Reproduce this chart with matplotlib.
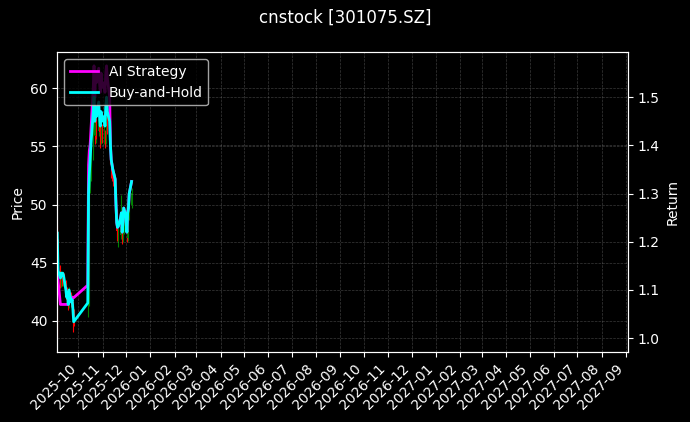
import matplotlib
matplotlib.use('Agg')
import matplotlib.pyplot as plt
import matplotlib.dates as mdates
import numpy as np
import pandas as pd

title = 'cnstock [301075.SZ]'

# 交易日 (国庆前后有一段缺失)
dates = ['2025-09-04', '2025-09-05', '2025-09-08', '2025-09-09', '2025-09-10', '2025-09-11',
         '2025-09-12', '2025-09-15', '2025-09-16', '2025-09-17', '2025-09-18', '2025-09-19',
         '2025-09-22', '2025-09-23', '2025-09-24', '2025-09-25',
         '2025-10-13', '2025-10-14', '2025-10-15', '2025-10-16', '2025-10-17',
         '2025-10-20', '2025-10-21', '2025-10-22', '2025-10-23', '2025-10-24',
         '2025-10-27', '2025-10-28', '2025-10-29', '2025-10-30', '2025-10-31',
         '2025-11-03', '2025-11-04', '2025-11-05', '2025-11-06', '2025-11-07',
         '2025-11-10', '2025-11-11', '2025-11-12', '2025-11-13', '2025-11-14',
         '2025-11-17', '2025-11-18', '2025-11-19', '2025-11-20', '2025-11-21',
         '2025-11-24', '2025-11-25', '2025-11-26', '2025-11-27', '2025-11-28',
         '2025-12-01', '2025-12-02', '2025-12-03', '2025-12-04', '2025-12-05',
         '2025-12-08']

open_px = [48.0, 46.5, 44.0, 43.2, 43.7, 43.4, 43.8, 43.3, 42.5, 41.9, 42.1, 41.3, 42.3, 41.5, 41.5, 40.6,
           40.5, 41.5, 50.5, 51.8, 52.5, 54.2, 56.8, 57.5, 55.9, 57.2, 56.3, 57.3, 56.1, 55.5, 56.5,
           55.7, 56.1, 55.5, 57.1, 57.6, 56.5, 55.6, 53.8, 52.8, 52.3, 51.9, 51.0, 49.2, 47.8, 47.3,
           47.4, 48.2, 48.4, 47.1, 47.8, 48.8, 48.0, 47.1, 48.4, 49.0, 50.0]
high_px = [48.2, 47.0, 44.8, 44.3, 44.2, 44.0, 44.1, 43.5, 42.9, 42.6, 42.4, 42.9, 42.5, 42.2, 41.7, 41.0,
           42.2, 50.1, 52.8, 53.5, 54.6, 57.5, 58.9, 57.9, 57.6, 57.5, 58.0, 57.6, 56.5, 57.1, 56.9,
           56.8, 56.4, 57.4, 58.6, 57.9, 56.8, 55.9, 54.2, 53.4, 52.8, 52.3, 51.4, 49.6, 48.6, 48.0,
           48.6, 50.8, 48.7, 48.2, 49.3, 49.1, 48.3, 48.8, 49.3, 50.5, 51.4]
low_px = [38.6, 43.5, 42.8, 42.9, 43.0, 43.0, 43.1, 42.0, 41.6, 41.5, 40.9, 41.1, 41.2, 40.4, 39.0, 39.5,
          40.3, 41.3, 49.8, 51.0, 52.0, 53.8, 56.0, 55.2, 55.3, 55.6, 55.9, 55.7, 54.9, 55.2, 55.3,
          55.2, 54.9, 55.2, 56.6, 56.1, 55.3, 53.5, 52.3, 52.0, 51.6, 50.8, 48.9, 47.2, 46.9, 46.3,
          47.0, 47.9, 46.6, 46.8, 47.5, 47.8, 46.8, 46.9, 48.0, 48.7, 49.7]
close_px = [46.9, 43.9, 43.3, 43.7, 43.5, 43.7, 43.5, 42.4, 41.8, 42.2, 41.2, 42.4, 41.4, 41.6, 40.8, 39.8,
            41.3, 50.1, 51.6, 52.7, 53.9, 56.6, 57.8, 55.8, 57.0, 56.2, 57.4, 56.2, 55.4, 56.6, 55.8,
            56.2, 55.4, 57.0, 57.8, 56.6, 55.8, 53.9, 52.7, 52.4, 52.0, 51.2, 49.3, 47.7, 47.4, 47.4,
            48.1, 48.5, 47.0, 47.7, 48.9, 48.1, 47.0, 48.5, 48.9, 50.1, 51.0]

ai_strategy = [1.18, 1.12, 1.07, 1.07, 1.07, 1.07, 1.07, 1.07, 1.07, 1.07, 1.07, 1.09, 1.075, 1.08, 1.085, 1.084,
               1.11, 1.36, 1.39, 1.40, 1.43, 1.52, 1.565, 1.50, 1.55, 1.53, 1.56, 1.53, 1.51, 1.55, 1.52,
               1.53, 1.51, 1.55, 1.565, 1.54, 1.50, 1.40, 1.37, 1.36, 1.35, 1.33, 1.28, 1.24, 1.23, 1.232,
               1.25, 1.26, 1.22, 1.24, 1.27, 1.25, 1.22, 1.26, 1.27, 1.30, 1.325]
buy_hold = [1.218, 1.14, 1.125, 1.135, 1.13, 1.135, 1.13, 1.10, 1.085, 1.095, 1.07, 1.10, 1.075, 1.08, 1.06, 1.034,
            1.073, 1.30, 1.34, 1.37, 1.40, 1.47, 1.50, 1.45, 1.48, 1.46, 1.49, 1.46, 1.44, 1.47, 1.45,
            1.46, 1.44, 1.48, 1.50, 1.47, 1.45, 1.40, 1.37, 1.36, 1.35, 1.33, 1.28, 1.24, 1.23, 1.232,
            1.25, 1.26, 1.22, 1.24, 1.27, 1.25, 1.22, 1.26, 1.27, 1.30, 1.325]

x_range = ('2025-09-04', '2027-09-04')


class CandleChart:
    def __init__(self):
        self.save_path = 'out.png'
        self.up_color = 'green'
        self.down_color = 'red'

    def plot_candles(self, ax, x):
        o = np.array(open_px)
        h = np.array(high_px)
        l = np.array(low_px)
        c = np.array(close_px)
        colors = np.where(c >= o, self.up_color, self.down_color)
        # 影线
        ax.vlines(x, l, h, colors=colors, linewidth=0.8, zorder=2)
        # 实体
        ax.bar(x, np.abs(c - o), bottom=np.minimum(o, c), width=0.6, color=colors, zorder=2)

    def main(self):
        plt.style.use('dark_background')
        fig, ax = plt.subplots(figsize=(6.9, 4.22), dpi=100)
        fig.subplots_adjust(left=0.083, right=0.9104, bottom=0.1666, top=0.876)
        x = mdates.date2num(pd.to_datetime(dates))

        self.plot_candles(ax, x)
        ax.set_ylabel('Price')
        ax.set_ylim(37.33, 63.1)
        ax.grid(True, linestyle='--', linewidth=0.5, color='gray', alpha=0.45)

        # 右轴：收益曲线
        ax2 = ax.twinx()
        ax2.plot(x, ai_strategy, color='magenta', linewidth=2, label='AI Strategy')
        ax2.plot(x, buy_hold, color='cyan', linewidth=2, label='Buy-and-Hold')
        ax2.set_ylabel('Return')
        ax2.set_ylim(0.972, 1.593)
        ax2.grid(True, linestyle='--', linewidth=0.5, color='gray', alpha=0.45)
        ax2.legend(loc='upper left')

        ax.set_xlim(mdates.datestr2num(x_range[0]), mdates.datestr2num(x_range[1]))
        ax.xaxis.set_major_locator(mdates.MonthLocator())
        ax.xaxis.set_major_formatter(mdates.DateFormatter('%Y-%m'))
        plt.setp(ax.get_xticklabels(), rotation=45, ha='right')

        fig.suptitle(title, fontsize=12)
        fig.savefig(self.save_path, dpi=100)


if __name__ == "__main__":
    CandleChart().main()
